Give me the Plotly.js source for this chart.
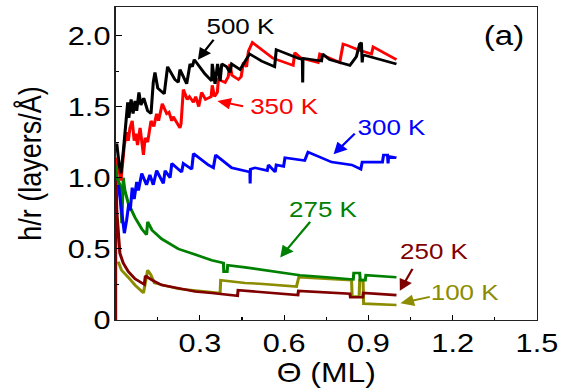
<!DOCTYPE html>
<html>
<head>
<meta charset="utf-8">
<script src="https://cdn.plot.ly/plotly-3.0.1.min.js"></script>
<style>
html,body{margin:0;padding:0;background:#fff;overflow:hidden;}
#wrap{width:570px;height:392px;overflow:hidden;}
#chart{width:483px;height:392px;transform:scaleX(1.18);transform-origin:0 0;}
</style>
</head>
<body>
<div id="wrap"><div id="chart"></div></div>
<script>
// ---- data ----
const x500 = [0, 0.004, 0.012, 0.019, 0.028, 0.036, 0.043, 0.047, 0.055, 0.062, 0.069, 0.075, 0.083, 0.090, 0.100, 0.114, 0.126, 0.134, 0.140, 0.150, 0.173, 0.185, 0.211, 0.223, 0.229, 0.253, 0.265, 0.273, 0.280, 0.318, 0.342, 0.344, 0.354, 0.363, 0.372, 0.378, 0.395, 0.407, 0.413, 0.443, 0.461, 0.473, 0.477, 0.520, 0.566, 0.572, 0.632, 0.650, 0.665, 0.666, 0.667, 0.733, 0.737, 0.762, 0.822, 0.834, 0.857, 0.869, 0.875, 0.878, 0.880, 0.887, 1.0];
const y500 = [1.22, 1.24, 1.10, 1.03, 1.20, 1.40, 1.53, 1.42, 1.55, 1.45, 1.54, 1.47, 1.60, 1.51, 1.56, 1.47, 1.45, 1.67, 1.74, 1.63, 1.59, 1.78, 1.69, 1.67, 1.76, 1.66, 1.80, 1.78, 1.83, 1.73, 1.68, 1.80, 1.66, 1.80, 1.68, 1.80, 1.78, 1.74, 1.80, 1.76, 1.82, 1.85, 1.87, 1.82, 1.78, 1.90, 1.85, 1.84, 1.83, 1.67, 1.84, 1.82, 1.87, 1.83, 1.80, 1.79, 1.85, 1.94, 1.95, 1.81, 1.86, 1.86, 1.80];

const x350 = [0, 0.004, 0.012, 0.019, 0.031, 0.039, 0.045, 0.051, 0.059, 0.066, 0.072, 0.078, 0.087, 0.099, 0.105, 0.114, 0.126, 0.136, 0.146, 0.153, 0.166, 0.182, 0.190, 0.200, 0.205, 0.229, 0.233, 0.241, 0.255, 0.263, 0.277, 0.285, 0.296, 0.306, 0.320, 0.340, 0.344, 0.352, 0.362, 0.366, 0.390, 0.401, 0.407, 0.414, 0.437, 0.447, 0.455, 0.466, 0.473, 0.487, 0.560, 0.632, 0.638, 0.660, 0.721, 0.727, 0.798, 0.810, 0.825, 0.863, 0.911, 0.917, 1.0];
const y350 = [1.10, 1.14, 1.05, 0.98, 1.23, 1.32, 1.26, 1.35, 1.40, 1.26, 1.31, 1.23, 1.35, 1.16, 1.28, 1.25, 1.40, 1.36, 1.45, 1.40, 1.52, 1.45, 1.46, 1.40, 1.43, 1.35, 1.38, 1.62, 1.55, 1.57, 1.53, 1.57, 1.50, 1.60, 1.55, 1.57, 1.65, 1.57, 1.60, 1.69, 1.67, 1.71, 1.80, 1.72, 1.69, 1.71, 1.81, 1.78, 1.89, 1.95, 1.84, 1.79, 1.88, 1.84, 1.81, 1.87, 1.81, 1.94, 1.93, 1.90, 1.87, 1.92, 1.83];

const x300 = [0.010, 0.021, 0.031, 0.039, 0.047, 0.052, 0.059, 0.066, 0.075, 0.081, 0.093, 0.110, 0.122, 0.134, 0.146, 0.170, 0.176, 0.194, 0.200, 0.235, 0.241, 0.271, 0.277, 0.330, 0.348, 0.356, 0.413, 0.478, 0.479, 0.480, 0.496, 0.540, 0.544, 0.568, 0.572, 0.598, 0.603, 0.673, 0.685, 0.769, 0.841, 0.873, 0.878, 0.950, 0.954, 0.968, 0.970, 0.972, 1.0];
const y300 = [0.95, 0.75, 0.61, 0.70, 0.82, 0.77, 0.93, 0.85, 0.97, 0.91, 1.03, 0.95, 1.02, 0.95, 1.05, 0.96, 1.05, 1.00, 1.10, 1.04, 1.10, 1.06, 1.17, 1.09, 1.07, 1.16, 1.07, 1.04, 0.96, 1.06, 1.07, 1.05, 1.09, 1.04, 1.09, 1.08, 1.14, 1.12, 1.18, 1.11, 1.09, 1.06, 1.11, 1.11, 1.16, 1.16, 1.10, 1.15, 1.14];

const x275 = [0, 0.005, 0.015, 0.022, 0.027, 0.033, 0.045, 0.069, 0.093, 0.110, 0.114, 0.130, 0.164, 0.223, 0.283, 0.342, 0.384, 0.385, 0.397, 0.399, 0.461, 0.556, 0.656, 0.751, 0.846, 0.848, 0.869, 0.871, 0.889, 0.891, 1.0];
const y275 = [1.10, 1.00, 0.95, 0.68, 1.00, 0.91, 0.82, 0.72, 0.64, 0.60, 0.69, 0.63, 0.57, 0.50, 0.46, 0.42, 0.40, 0.34, 0.34, 0.385, 0.37, 0.345, 0.315, 0.30, 0.285, 0.33, 0.33, 0.28, 0.28, 0.315, 0.30];

const x250 = [0, 0, 0.002, 0.004, 0.009, 0.015, 0.027, 0.045, 0.069, 0.093, 0.102, 0.106, 0.114, 0.130, 0.164, 0.223, 0.283, 0.342, 0.401, 0.434, 0.436, 0.496, 0.556, 0.649, 0.651, 0.834, 0.836, 0.880, 0.882, 1.0];
const y250 = [0, 1.03, 0.95, 0.77, 0.58, 0.47, 0.40, 0.34, 0.29, 0.26, 0.25, 0.31, 0.30, 0.28, 0.245, 0.22, 0.20, 0.19, 0.175, 0.17, 0.21, 0.20, 0.19, 0.175, 0.205, 0.185, 0.16, 0.16, 0.19, 0.175];

const x100 = [0.009, 0.021, 0.045, 0.069, 0.099, 0.110, 0.114, 0.125, 0.138, 0.223, 0.372, 0.374, 0.461, 0.513, 0.644, 0.652, 0.840, 0.842, 0.867, 0.869, 0.881, 0.883, 1.0];
const y100 = [0.41, 0.35, 0.30, 0.245, 0.19, 0.30, 0.35, 0.32, 0.26, 0.22, 0.19, 0.28, 0.26, 0.255, 0.235, 0.30, 0.28, 0.165, 0.165, 0.28, 0.28, 0.115, 0.105];

const seriesNames = ['500 K', '350 K', '300 K', '275 K', '250 K', '100 K'];
const xTickVals = [0.3, 0.6, 0.9, 1.2, 1.5];
const xTickText = ['0.3', '0.6', '0.9', '1.2', '1.5'];
const yTickVals = [0, 0.5, 1.0, 1.5, 2.0];
const yTickText = ['0', '0.5', '1.0', '1.5', '2.0'];

// label positions [x, y] and arrow [tailX, tailY, headX, headY]
const labelPos = [[0.445, 2.06], [0.60, 1.50], [0.985, 1.35], [0.738, 0.78], [1.133, 0.48], [1.245, 0.19]];
const arrows = [[0.353, 1.98, 0.293, 1.83], [0.46, 1.50, 0.362, 1.54], [0.857, 1.32, 0.776, 1.165], [0.697, 0.70, 0.586, 0.44], [1.06, 0.37, 1.012, 0.205], [1.125, 0.165, 1.014, 0.118]];

const colors = ['#000000', '#ff0000', '#0000ff', '#008000', '#800000', '#8c8c00'];
const xs = [x500, x350, x300, x275, x250, x100];
const ys = [y500, y350, y300, y275, y250, y100];

const FONT = 'Liberation Sans, Arial, sans-serif';

const traces = [5, 4, 3, 2, 1, 0].map(i => ({
  x: xs[i], y: ys[i], type: 'scatter', mode: 'lines', name: seriesNames[i],
  line: {color: colors[i], width: 2.6}, showlegend: false, hoverinfo: 'skip'
}));

const annotations = [];
for (let i = 0; i < seriesNames.length; i++) {
  annotations.push({x: labelPos[i][0], y: labelPos[i][1], xref: 'x', yref: 'y', text: seriesNames[i],
    showarrow: false, font: {family: FONT, size: 22, color: colors[i]}, xanchor: 'center', yanchor: 'middle'});
  annotations.push({x: arrows[i][2], y: arrows[i][3], ax: arrows[i][0], ay: arrows[i][1], axref: 'x', ayref: 'y',
    xref: 'x', yref: 'y', text: '', showarrow: true, arrowhead: 2, arrowsize: 1.15, arrowwidth: 2, arrowcolor: colors[i]});
}
annotations.push({x: 0.975, y: 0.965, xref: 'paper', yref: 'paper', text: '(a)', showarrow: false,
  xanchor: 'right', yanchor: 'top', font: {family: FONT, size: 28, color: '#000'}});

const layout = {
  width: 483, height: 392,
  margin: {l: 98, r: 28, t: 7, b: 72, pad: 0},
  paper_bgcolor: '#fff', plot_bgcolor: '#fff',
  xaxis: {
    range: [0, 1.5], tickmode: 'array', tickvals: xTickVals, ticktext: xTickText,
    ticks: 'inside', ticklen: 5, tickwidth: 1, tickcolor: '#000',
    minor: {tickmode: 'array', tickvals: [0.15, 0.45, 0.75, 1.05, 1.35], ticks: 'inside', ticklen: 3, tickcolor: '#000'},
    showline: true, mirror: true, linecolor: '#222', linewidth: 1.2, showgrid: false, zeroline: false,
    tickfont: {family: FONT, size: 26, color: '#000'},
    title: {text: 'Θ (ML)', font: {family: FONT, size: 27, color: '#000'}, standoff: 2}
  },
  yaxis: {
    range: [0, 2.2], tickmode: 'array', tickvals: yTickVals, ticktext: yTickText,
    ticks: 'inside', ticklen: 5, tickwidth: 1, tickcolor: '#000',
    minor: {tickmode: 'array', tickvals: [0.25, 0.75, 1.25, 1.75], ticks: 'inside', ticklen: 3, tickcolor: '#000'},
    showline: true, mirror: true, linecolor: '#222', linewidth: 1.2, showgrid: false, zeroline: false,
    tickfont: {family: FONT, size: 26, color: '#000'}, ticklabelstandoff: -2,
    title: {text: 'h/r (layers/Å)', font: {family: FONT, size: 27, color: '#000'}, standoff: 14}
  },
  annotations: annotations
};

Plotly.newPlot('chart', traces, layout, {staticPlot: true, displayModeBar: false});
</script>
</body>
</html>
